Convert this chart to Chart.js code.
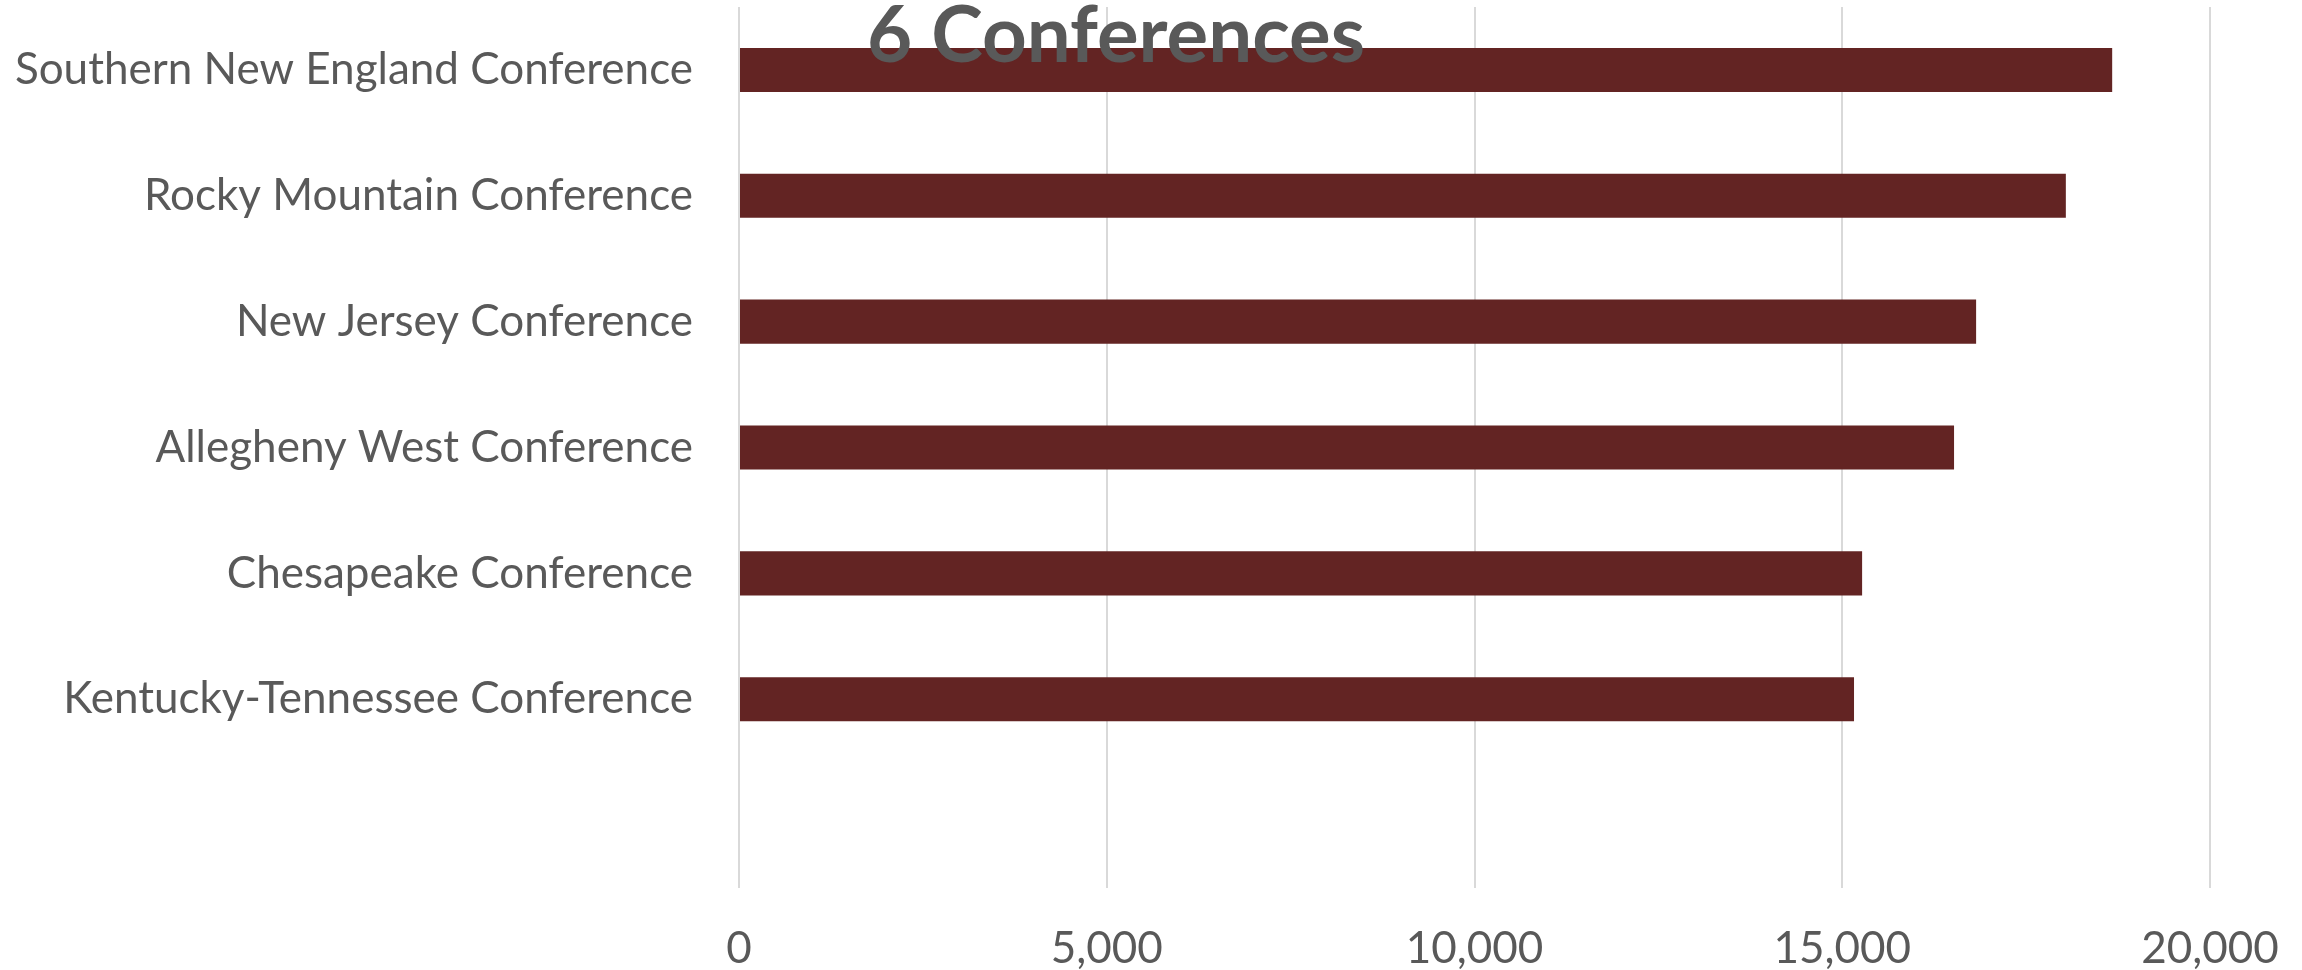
<!DOCTYPE html>
<html>
<head>
<meta charset="utf-8">
<script src="https://cdn.jsdelivr.net/npm/chart.js@4"></script>
<style>
  html, body { margin: 0; padding: 0; background: #fff; }
  #wrap { width: 2302px; height: 970px; position: relative; }
</style>
</head>
<body>
<div id="wrap"><canvas id="confChart"></canvas></div>
<script>
// categories top to bottom, last slot is empty in the original
const conferences = [
    'Southern New England Conference',
    'Rocky Mountain Conference',
    'New Jersey Conference',
    'Allegheny West Conference',
    'Chesapeake Conference',
    'Kentucky-Tennessee Conference',
    ''
];
const members = [18670, 18040, 16820, 16520, 15270, 15160, null];
const xTicks = [0, 5000, 10000, 15000, 20000];
const chartTitle = '6 Conferences';

const textGray = '#595959';
const barColor = '#632423';

// title sits over the plot area, so draw it ourselves
const titleOverlay = {
    id: 'titleOverlay',
    afterDatasetsDraw(chart) {
        const ctx = chart.ctx;
        ctx.save();
        ctx.font = 'bold 78px Lato';
        ctx.fillStyle = textGray;
        ctx.textAlign = 'center';
        ctx.textBaseline = 'alphabetic';
        ctx.fillText(chartTitle, 1116, 62);
        ctx.restore();
    }
};

// drop the extra label padding chart.js adds around the axes
function noEdgePadding(scale) {
    scale.paddingTop = 0;
    scale.paddingBottom = 0;
    scale.paddingLeft = 0;
    scale.paddingRight = 0;
}

new Chart(document.getElementById('confChart').getContext('2d'), {
    type: 'bar',
    data: {
        labels: conferences,
        datasets: [{
            data: members,
            backgroundColor: barColor,
            borderWidth: 0,
            categoryPercentage: 1,
            barPercentage: 0.35
        }]
    },
    options: {
        indexAxis: 'y',
        responsive: true,
        maintainAspectRatio: false,
        animation: false,
        layout: { padding: { top: 7, right: 92, left: 0, bottom: 0 } },
        plugins: {
            legend: { display: false },
            tooltip: { enabled: false },
            title: { display: false }
        },
        scales: {
            x: {
                min: 0,
                max: 20000,
                afterBuildTicks: (scale) => {
                    scale.ticks = xTicks.map(v => ({ value: v }));
                },
                afterFit: (scale) => {
                    scale.height = 82;
                    noEdgePadding(scale);
                },
                grid: { color: '#d9d9d9', lineWidth: 2, drawTicks: false },
                border: { display: false },
                ticks: {
                    color: textGray,
                    padding: 34,
                    font: { family: 'Lato', size: 44 },
                    callback: (v) => Number(v).toLocaleString('en-US')
                }
            },
            y: {
                afterFit: (scale) => {
                    scale.width = 739;
                    noEdgePadding(scale);
                },
                grid: { display: false, drawTicks: false },
                border: { display: false },
                ticks: {
                    color: textGray,
                    padding: 46,
                    font: { family: 'Lato', size: 44 }
                }
            }
        }
    },
    plugins: [titleOverlay]
});
</script>
</body>
</html>
